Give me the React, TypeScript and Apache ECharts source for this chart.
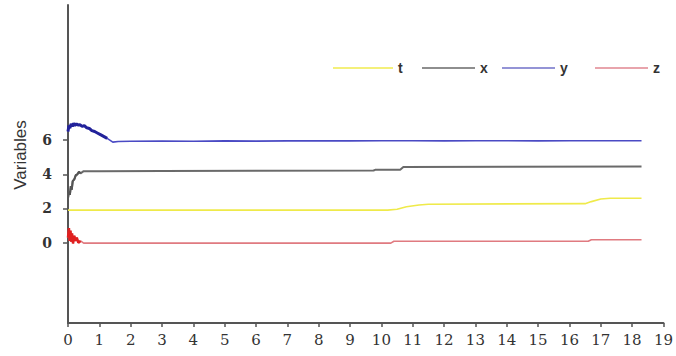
import React, { useEffect, useRef } from "react";
import * as echarts from "echarts";

// Time positions and values per series
const tTime = [0, 10.2, 10.5, 10.8, 11.2, 11.5, 16.5, 16.7, 17.0, 17.3, 18.3];
const tVals = [1.9, 1.9, 1.95, 2.1, 2.2, 2.25, 2.28, 2.4, 2.55, 2.6, 2.6];

const xTime = [0, 0.03, 0.06, 0.09, 0.12, 0.15, 0.2, 0.25, 0.3, 0.35, 0.4, 0.5, 1, 3, 6, 9.75, 9.8, 10.6, 10.7, 14, 18.3];
const xVals = [2.6, 3.0, 2.8, 3.3, 3.1, 3.6, 3.7, 3.95, 4.0, 4.15, 4.05, 4.18, 4.18, 4.19, 4.2, 4.22, 4.26, 4.27, 4.43, 4.44, 4.45];

const yTime = [0, 0.03, 0.06, 0.1, 0.14, 0.18, 0.22, 0.27, 0.32, 0.38, 0.45, 0.52, 0.6, 0.68, 0.76, 0.85, 0.95, 1.05, 1.15, 1.25, 1.43, 1.6, 2, 3, 4, 5, 6, 7, 8, 9, 10, 11, 12, 13, 14, 15, 16, 17, 18.3];
const yVals = [6.5, 6.85, 6.7, 6.95, 6.8, 6.98, 6.85, 6.95, 6.88, 6.9, 6.8, 6.85, 6.72, 6.68, 6.55, 6.5, 6.4, 6.3, 6.2, 6.1, 5.88, 5.92, 5.93, 5.94, 5.93, 5.95, 5.94, 5.95, 5.96, 5.95, 5.96, 5.96, 5.95, 5.96, 5.96, 5.95, 5.96, 5.96, 5.96];

const zTime = [0, 0.03, 0.05, 0.08, 0.1, 0.13, 0.16, 0.2, 0.24, 0.28, 0.33, 0.4, 0.5, 1, 10.3, 10.4, 16.6, 16.7, 18.3];
const zVals = [0.3, 0.85, 0.1, 0.7, 0.05, 0.55, -0.05, 0.4, 0.1, 0.3, 0.0, 0.1, -0.03, -0.03, -0.03, 0.08, 0.08, 0.17, 0.17];

const xTickLabels = Array.from({ length: 20 }, (_, i) => i);
const yTickValues = [0, 2, 4, 6];

const seriesNames = ["t", "x", "y", "z"];
const lineColors = ["#efea4a", "#6a6a6a", "#4a4ac4", "#e07a80"];
const legendColors = ["#f4f07a", "#8e8e8e", "#9494d6", "#e8a4ac"];
const legendLefts = [328, 417, 497, 590];

const pairs = (ts: number[], vs: number[]) => ts.map((t, i) => [t, vs[i]]);
const head = (ts: number[], vs: number[], upTo: number) =>
  pairs(ts, vs).filter((p) => p[0] <= upTo);

export default function App() {
  const ref = useRef<HTMLDivElement>(null);
  useEffect(() => {
    if (!ref.current) return;
    const chart = echarts.init(ref.current, undefined, { renderer: "svg" });
    const dataSets = [pairs(tTime, tVals), pairs(xTime, xVals), pairs(yTime, yVals), pairs(zTime, zVals)];
    const main = seriesNames.map((n, i) => ({
      name: n,
      type: "line",
      data: dataSets[i],
      symbol: "none",
      lineStyle: { color: lineColors[i], width: i === 1 ? 2 : 1.6 },
      itemStyle: { color: lineColors[i] },
      z: 3,
    }));
    const noisy = [
      {
        type: "line",
        data: head(yTime, yVals, 1.25),
        symbol: "none",
        lineStyle: { color: "#22229a", width: 3 },
        z: 4,
      },
      {
        type: "line",
        data: head(zTime, zVals, 0.4),
        symbol: "none",
        lineStyle: { color: "#e02020", width: 2.5 },
        z: 4,
      },
      {
        type: "line",
        data: head(xTime, xVals, 0.4),
        symbol: "none",
        lineStyle: { color: "#555555", width: 2 },
        z: 4,
      },
    ];
    chart.setOption({
      animation: false,
      backgroundColor: "#ffffff",
      grid: { left: 68, right: 10, top: 5, bottom: 33 },
      legend: seriesNames.map((n, i) => ({
        left: legendLefts[i],
        top: 56,
        icon: "rect",
        itemWidth: i === 0 ? 60 : 53,
        itemHeight: 2,
        itemGap: 0,
        itemStyle: { color: legendColors[i] },
        data: [{ name: n, itemStyle: { color: legendColors[i] } }],
        textStyle: {
          fontFamily: "Liberation Sans",
          fontWeight: "bold",
          fontSize: 14,
          color: "#333",
        },
      })),
      xAxis: {
        type: "value",
        min: 0,
        max: 19,
        interval: 1,
        axisLine: { show: true, onZero: false, lineStyle: { color: "#555", width: 2 } },
        axisTick: { show: true, length: 4, lineStyle: { color: "#555", width: 1.5 } },
        axisLabel: {
          margin: 9,
          fontFamily: "DejaVu Serif",
          fontSize: 15,
          color: "#333",
          formatter: (v: number) => String(xTickLabels[Math.round(v)] ?? v),
        },
        splitLine: { show: false },
      },
      yAxis: {
        type: "value",
        min: -4.7,
        max: 13.9,
        axisLine: { show: true, onZero: false, lineStyle: { color: "#555", width: 2 } },
        axisTick: { show: true, length: 5, customValues: yTickValues, lineStyle: { color: "#555", width: 1.5 } },
        axisLabel: {
          customValues: yTickValues,
          margin: 16,
          fontFamily: "DejaVu Serif",
          fontWeight: "bold",
          fontSize: 14,
          color: "#333",
        },
        splitLine: { show: false },
      },
      graphic: [
        {
          type: "text",
          x: 20,
          y: 155,
          rotation: Math.PI / 2,
          style: {
            text: "Variables",
            fontFamily: "Liberation Sans Narrow, Liberation Sans",
            fontSize: 17,
            fill: "#333",
            align: "center",
            verticalAlign: "middle",
          },
        },
      ],
      series: [...main, ...noisy],
    });
    return () => chart.dispose();
  }, []);
  return (
    <div
      ref={ref}
      style={{ position: "fixed", left: 0, top: 0, width: 676, height: 356, background: "#fff" }}
    />
  );
}
